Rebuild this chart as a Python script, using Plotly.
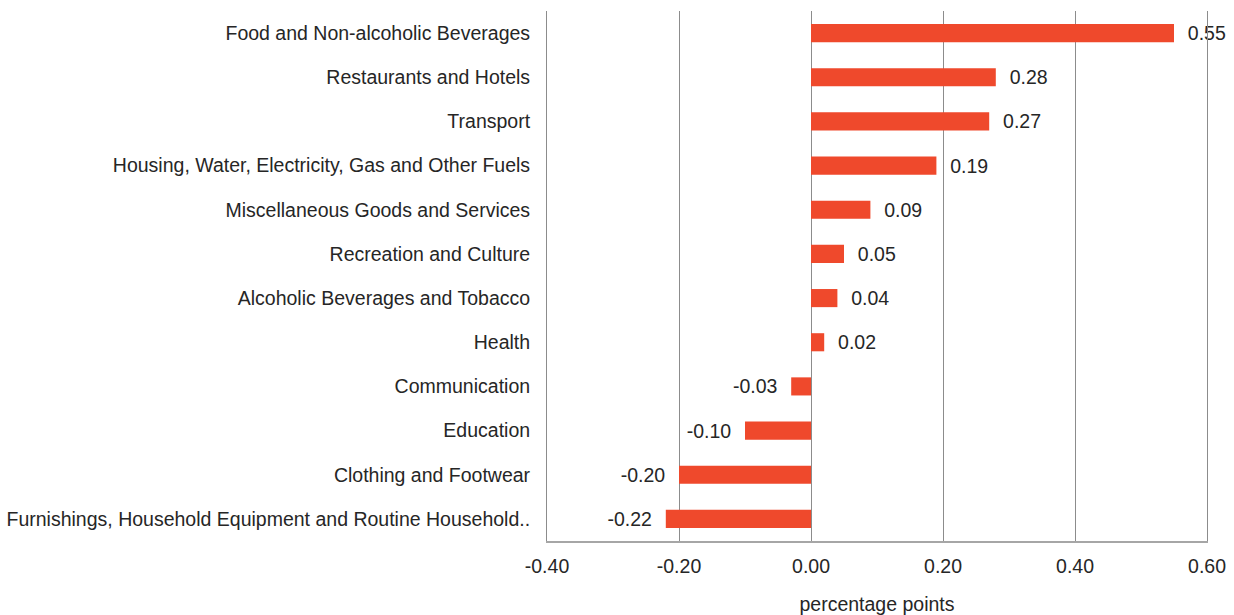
import plotly.graph_objects as go

categories = [
    "Food and Non-alcoholic Beverages",
    "Restaurants and Hotels",
    "Transport",
    "Housing, Water, Electricity, Gas and Other Fuels",
    "Miscellaneous Goods and Services",
    "Recreation and Culture",
    "Alcoholic Beverages and Tobacco",
    "Health",
    "Communication",
    "Education",
    "Clothing and Footwear",
    "Furnishings, Household Equipment and Routine Household..",
]
values = [0.55, 0.28, 0.27, 0.19, 0.09, 0.05, 0.04, 0.02, -0.03, -0.10, -0.20, -0.22]
x_ticks = [-0.40, -0.20, 0.00, 0.20, 0.40, 0.60]
x_title = "percentage points"

labels = [f"  {v:.2f}" if v >= 0 else f"{v:.2f}  " for v in values]

font_family = "Liberation Sans, Arial, sans-serif"
fs = 19.5
text_color = "#262626"
grid_color = "#8c8c8c"

fig = go.Figure(
    go.Bar(
        x=values,
        y=categories,
        orientation="h",
        marker=dict(color="#EF492C", line=dict(width=0)),
        text=labels,
        textposition="outside",
        constraintext="none",
        cliponaxis=False,
        textfont=dict(family=font_family, size=fs, color=text_color),
        hoverinfo="x+y",
    )
)

fig.update_layout(
    width=1234,
    height=615,
    margin=dict(l=547, r=27, t=11, b=74, autoexpand=False),
    paper_bgcolor="white",
    plot_bgcolor="white",
    bargap=0.59,
    showlegend=False,
    font=dict(family=font_family, size=fs, color=text_color),
)

fig.update_xaxes(
    automargin=False,
    range=[-0.40, 0.60],
    tickvals=x_ticks,
    ticktext=[f"{t:.2f}" for t in x_ticks],
    showgrid=True,
    gridcolor=grid_color,
    gridwidth=1,
    zeroline=False,
    showline=True,
    linecolor="#a6a6a6",
    linewidth=2,
    ticks="",
    ticklabelstandoff=7,
    tickfont=dict(family=font_family, size=fs, color=text_color),
    title=dict(text=x_title, font=dict(family=font_family, size=fs, color=text_color), standoff=23),
)

fig.update_yaxes(
    automargin=False,
    categoryorder="array",
    categoryarray=categories[::-1],
    showgrid=False,
    zeroline=False,
    showline=True,
    mirror=True,
    linecolor=grid_color,
    linewidth=1,
    ticks="",
    ticklabelstandoff=12,
    tickfont=dict(family=font_family, size=fs, color=text_color),
)

fig.write_html("out.html")
